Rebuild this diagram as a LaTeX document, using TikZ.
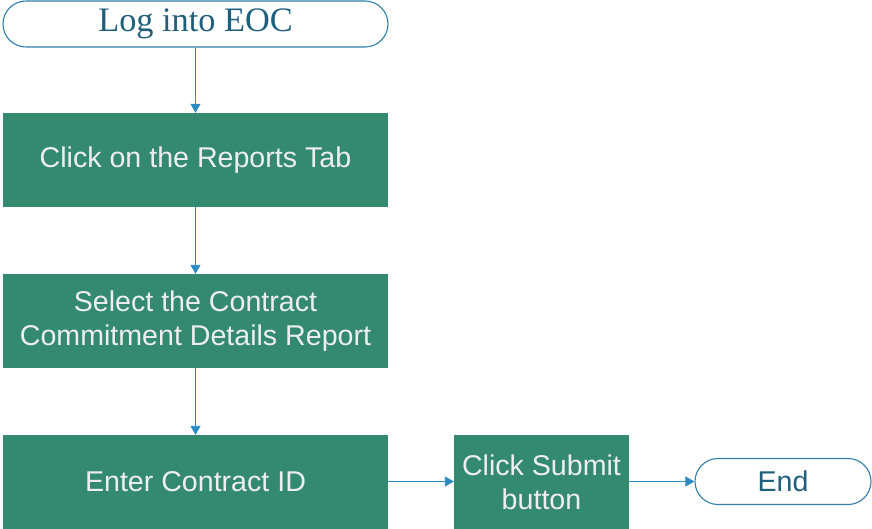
\documentclass[tikz,border=0pt]{standalone}
\usepackage{fontspec}
\setmainfont{Liberation Serif}
\newfontfamily\arialf{Liberation Sans}
\usetikzlibrary{arrows.meta}
\definecolor{boxgreen}{HTML}{338A6F}
\definecolor{boxtext}{HTML}{EEEEEE}
\definecolor{termline}{HTML}{2F7FA8}
\definecolor{termtext}{HTML}{1F5E7C}
\definecolor{arrowc}{HTML}{2A8AC2}
\tikzset{
  stepbox/.style={fill=boxgreen, draw=none, text=boxtext, font=\arialf\fontsize{28.6}{34}\selectfont, align=center, inner sep=0pt, minimum height=94pt},
  term/.style={draw=termline, line width=1.1pt, fill=white, rounded corners=23pt, align=center, inner sep=0pt, minimum height=46pt},
  conn/.style={draw=arrowc, line width=0.9pt, -{Triangle[length=9pt,width=10pt]}}
}
\begin{document}
\begin{tikzpicture}[x=1pt,y=-1pt]
\useasboundingbox (0,0) rectangle (872,529);
\node[term, minimum width=385pt, text=termtext, font=\fontsize{34.3}{40}\selectfont] (t) at (195.5,24) {Log into EOC};
\node[stepbox, minimum width=385pt] (b1) at (195.5,160) {Click on the Reports Tab};
\node[stepbox, minimum width=385pt] (b2) at (195.5,321) {Select the Contract\\Commitment Details Report};
\node[stepbox, minimum width=385pt] (b3) at (195.5,482) {Enter Contract ID};
\node[stepbox, minimum width=175pt] (b4) at (541.5,482) {Click Submit\\button};
\node[term, minimum width=176pt, text=termtext, font=\arialf\fontsize{28.6}{34}\selectfont] (e) at (783,481.5) {End};
\draw[conn] (t) -- (b1);
\draw[conn] (b1) -- (b2);
\draw[conn] (b2) -- (b3);
\draw[conn] (b3.east |- e.west) -- (b4.west |- e.west);
\draw[conn] (b4.east |- e.west) -- (e.west);
\end{tikzpicture}
\end{document}
